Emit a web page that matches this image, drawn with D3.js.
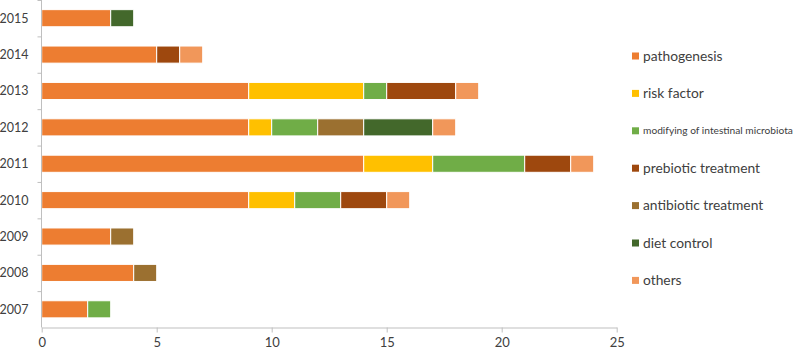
<!DOCTYPE html>
<html><head><meta charset="utf-8">
<script src="https://cdn.jsdelivr.net/npm/d3@7"></script>
<style>body{margin:0;background:#fff}svg{display:block}</style>
</head><body>
<svg id="c" width="800" height="350"></svg>
<script>
const years = ["2015","2014","2013","2012","2011","2010","2009","2008","2007"];
const seriesNames = ["pathogenesis","risk factor","modifying of intestinal microbiota","prebiotic treatment","antibiotic treatment","diet control","others"];
const seriesColors = ["#ED7D31","#FFC000","#70AD47","#9E480E","#9B7030","#43682B","#F1975A"];
const pathogenesis = [3,5,9,9,14,9,3,4,2];
const riskFactor   = [0,0,5,1,3,2,0,0,0];
const modifying    = [0,0,1,2,4,2,0,0,1];
const prebiotic    = [0,1,3,0,2,2,0,0,0];
const antibiotic   = [0,0,0,2,0,0,1,1,0];
const dietControl  = [1,0,0,3,0,0,0,0,0];
const others       = [0,1,1,1,1,1,0,0,0];
const xTicks = [0,5,10,15,20,25];

const seriesVals = [pathogenesis,riskFactor,modifying,prebiotic,antibiotic,dietControl,others];
const rows = years.map((y,i)=>{const o={year:y}; seriesNames.forEach((s,j)=>o[s]=seriesVals[j][i]); return o;});
const stack = d3.stack().keys(seriesNames)(rows);

const svg = d3.select("#c");
const font = "Lato, 'Open Sans', sans-serif";
const x = d3.scaleLinear().domain([0,25]).range([41.7,616.7]);
const y = d3.scaleBand().domain(years).range([0,327.5]).paddingInner(0.53).paddingOuter(0.265);

// bars
svg.append("g").selectAll("g").data(stack).join("g")
  .attr("fill",(d,i)=>seriesColors[i])
  .selectAll("rect").data(d=>d.filter(e=>e[1]-e[0]>0)).join("rect")
  .attr("x",d=>x(d[0])).attr("width",d=>x(d[1])-x(d[0]))
  .attr("y",d=>y(d.data.year)).attr("height",y.bandwidth())
  .attr("stroke","#fff").attr("stroke-width",1);

// x axis
const axisColor = "#bfbfbf";
const gx = svg.append("g").attr("transform","translate(0,327.5)")
  .call(d3.axisBottom(x).tickValues(xTicks).tickSize(5).tickSizeOuter(0).tickPadding(5));
gx.select(".domain").attr("stroke",axisColor);
gx.selectAll(".tick line").attr("stroke",axisColor);
gx.selectAll("text").attr("font-family",font).attr("font-size",13).attr("fill","#404040");

// y axis
const ya = svg.append("g").attr("transform","translate(41.5,0)");
ya.append("line").attr("x1",0).attr("x2",0).attr("y1",0).attr("y2",327.5).attr("stroke",axisColor);
const step = y.step();
ya.selectAll("line.t").data(d3.range(0,years.length)).join("line").attr("class","t")
  .attr("x1",-4).attr("x2",0).attr("y1",d=>d*step+0.5).attr("y2",d=>d*step+0.5).attr("stroke",axisColor);
ya.selectAll("text").data(years).join("text")
  .attr("x",-13).attr("y",d=>y(d)+y.bandwidth()/2).attr("dy","0.35em")
  .attr("text-anchor","end").attr("font-family",font).attr("font-size",12.5).attr("fill","#404040")
  .text(d=>d);

// legend
const lg = svg.append("g");
seriesNames.forEach((s,i)=>{
  const cy = 56 + i*37.4;
  lg.append("rect").attr("x",632).attr("y",cy-3.5).attr("width",7).attr("height",7).attr("fill",seriesColors[i]);
  lg.append("text").attr("x",643).attr("y",cy).attr("dy","0.35em")
    .attr("font-family",font).attr("font-size",i===2?10.2:13.8).attr("fill","#404040").text(s);
});
</script>
</body></html>
